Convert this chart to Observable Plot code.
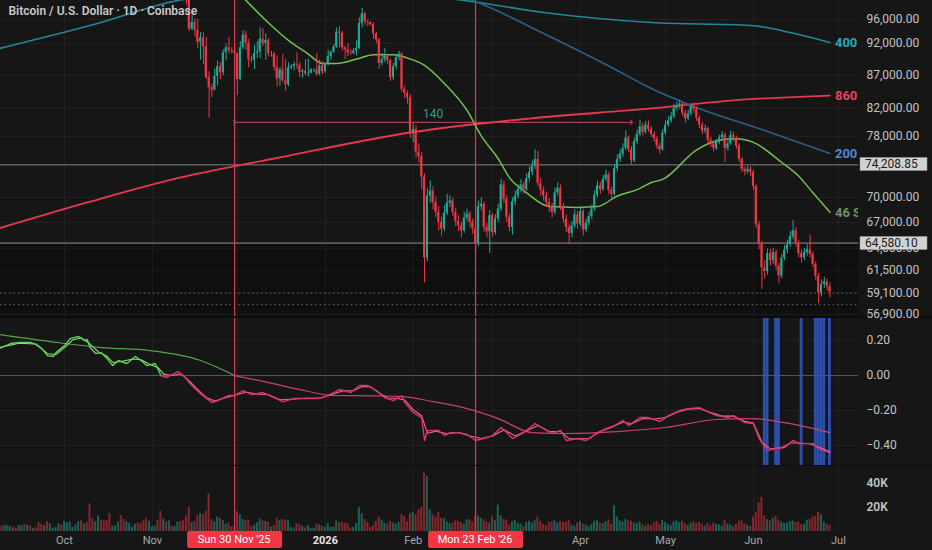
<!DOCTYPE html>
<html><head><meta charset="utf-8">
<script src="https://cdn.jsdelivr.net/npm/d3@7"></script>
<script src="https://cdn.jsdelivr.net/npm/@observablehq/plot@0.6"></script>
<style>
html,body{margin:0;padding:0;background:#161616;}
#chart{position:relative;width:932px;height:550px;overflow:hidden;background:#161616;}
#chart svg{display:block;position:relative}
.sep2{height:2px;background:#0c0c0c}
.sep1{height:1px;background:#0c0c0c}
</style></head><body><div id="chart"></div>
<script>
// ---------------- DATA ----------------
const title = "Bitcoin / U.S. Dollar · 1D · Coinbase";
const candleStart = "2025-09-08";          // first daily candle
const referenceDay = "2025-10-01";         // day offsets below count from here
const firstOpen = 111.2;                   // thousand USD
// daily closes (thousand USD), Sep 8 2025 -> Jun 28 2026
const closeK = [
112.1,111.5,113.9,115.5,116.1,115.9,115.3,115.4,116.8,116.5,
117.1,115.7,115.7,115.3,112.7,112.0,113.3,109.0,109.7,109.7,
112.1,114.4,114.0,118.6,120.6,122.3,122.4,123.5,124.8,121.4,
123.3,121.6,113.2,110.6,115.1,115.3,113.0,110.7,108.2,106.4,
107.2,108.6,110.5,108.5,107.6,110.0,111.0,111.6,114.5,114.1,
112.9,110.0,108.3,109.6,110.1,110.6,106.5,101.5,103.9,101.3,
103.3,102.3,104.7,105.9,103.0,101.6,99.7,94.4,95.5,94.2,
92.2,92.9,91.5,86.6,85.1,84.7,86.8,88.3,87.4,90.5,
91.3,90.9,90.8,90.4,86.3,91.3,93.4,92.1,89.4,89.3,
90.4,90.6,92.7,92.0,92.5,90.3,90.3,88.2,86.4,87.8,
86.1,85.5,88.1,88.3,88.6,88.5,87.4,87.6,87.2,87.3,
87.8,87.8,87.1,88.4,87.5,88.7,89.9,90.6,91.4,93.9,
93.7,91.3,91.0,90.5,90.4,90.8,91.2,95.3,97.0,95.6,
95.5,95.1,93.6,92.6,88.8,89.4,89.9,89.2,86.6,88.3,
89.7,90.3,84.8,84.2,83.6,78.6,79.0,75.9,75.3,72.6,
62.9,70.2,70.8,69.4,68.2,67.0,66.2,68.1,69.3,69.6,
68.2,67.1,66.6,66.0,67.5,68.0,67.0,66.2,64.5,68.9,
69.2,66.4,65.9,67.8,65.8,67.4,68.6,71.6,69.8,67.6,
66.4,69.5,70.2,71.0,71.6,71.0,72.4,73.2,74.0,74.9,
71.8,70.9,70.2,69.4,68.9,68.2,70.6,71.2,68.9,67.4,
66.4,65.7,66.6,67.9,66.8,68.3,66.1,66.9,67.7,68.6,
70.3,71.5,71.0,72.3,72.9,70.9,70.4,73.7,74.9,75.6,
76.4,77.8,76.2,74.7,77.3,78.3,79.4,78.6,79.6,79.0,
78.3,77.7,76.7,76.2,78.5,79.6,80.2,80.8,82.0,82.4,
82.6,81.3,80.5,81.2,82.3,81.9,80.6,79.6,78.8,79.1,
77.5,77.0,76.4,77.2,77.8,78.2,76.4,77.0,78.2,77.8,
76.7,74.9,73.6,73.3,73.6,73.2,71.4,66.7,64.5,61.8,
61.4,63.4,62.6,63.5,62.0,60.9,62.9,63.8,64.4,65.3,
66.0,64.6,63.4,62.9,63.5,63.8,63.3,62.2,60.9,59.1,
60.0,60.3,59.8,59.2];
const highK = [
112.8,113.2,114.3,115.6,116.3,116.8,116.1,116.8,117.0,117.2,
118.0,117.4,116.1,116.0,115.4,113.3,114.0,113.4,110.3,110.0,
112.3,114.5,114.8,118.7,121.0,123.8,122.9,125.2,126.2,125.1,
124.2,123.8,122.5,113.4,115.8,116.0,115.9,113.6,111.9,109.2,
107.5,109.5,111.7,114.0,109.2,111.0,112.0,111.9,115.0,116.1,
116.0,113.6,111.5,111.2,110.6,111.2,110.8,107.3,104.5,104.2,
104.0,103.4,105.0,106.6,107.0,105.3,104.0,99.9,96.8,96.1,
96.0,93.8,93.8,93.0,87.5,85.6,87.9,89.2,88.9,91.0,
91.9,93.0,91.4,92.0,90.4,92.3,94.1,94.0,92.7,89.9,
91.7,92.3,94.6,94.4,93.6,92.8,90.7,90.6,90.0,88.2,
90.3,89.4,88.9,88.6,89.0,90.5,88.9,87.9,89.4,89.5,
88.0,88.0,90.4,89.3,89.1,88.8,90.9,90.8,91.8,94.6,
94.8,94.0,91.5,91.9,91.0,91.2,92.4,96.3,97.9,97.2,
95.9,95.6,95.4,93.8,92.8,90.4,91.2,90.2,89.5,88.8,
90.2,90.7,90.5,85.3,84.6,84.0,79.8,79.5,77.0,75.8,
73.0,71.1,72.1,71.4,70.1,68.9,67.6,69.0,70.4,70.2,
69.9,68.7,67.8,67.0,68.2,68.6,68.3,67.4,66.5,69.6,
70.0,69.5,66.9,68.4,68.1,67.9,69.2,72.3,72.1,70.2,
68.0,70.0,70.8,71.6,72.3,72.0,73.0,73.9,74.7,76.2,
76.0,72.4,71.4,70.7,69.9,69.3,71.2,71.9,71.6,69.3,
67.9,66.8,67.1,68.5,68.3,68.9,68.6,67.4,68.2,69.1,
70.9,72.1,71.9,72.8,73.5,73.2,71.3,74.2,75.5,76.2,
77.0,78.8,78.1,76.6,77.8,78.9,80.3,79.9,80.1,80.2,
79.4,78.7,78.0,77.1,79.0,80.2,80.8,81.4,82.6,82.9,
83.2,82.9,81.7,81.7,82.7,82.8,82.2,80.9,80.0,79.6,
79.3,77.9,77.3,77.6,78.2,78.7,78.5,77.4,78.7,78.6,
78.1,77.0,75.2,73.9,74.0,73.9,73.5,71.6,67.1,64.8,
62.6,63.9,63.9,64.0,63.8,62.3,63.3,64.3,64.9,65.9,
67.2,66.4,64.9,63.8,64.0,64.4,65.5,63.6,62.5,61.2,
60.5,60.8,60.6,60.2];
const lowK = [
110.9,110.6,110.9,113.4,114.8,115.3,114.9,114.6,114.9,114.8,
115.6,115.3,115.3,114.9,111.9,111.0,111.6,108.6,108.6,109.1,
109.3,111.6,112.7,113.9,118.0,119.4,121.6,122.0,123.1,120.6,
121.1,119.8,104.8,109.6,109.7,113.0,110.2,110.0,107.6,103.6,
106.3,106.8,107.5,107.5,106.8,107.5,109.7,110.8,111.4,113.8,
112.6,109.2,106.3,108.3,109.4,109.6,105.3,99.6,100.8,100.3,
99.9,101.5,101.7,104.4,102.5,100.8,98.5,94.0,94.1,93.1,
91.2,89.3,88.6,86.3,80.6,83.6,84.6,85.3,86.3,86.9,
89.2,90.3,90.3,90.1,83.9,86.2,91.0,90.9,88.1,88.9,
87.8,89.6,89.6,91.5,89.3,89.8,89.8,87.6,85.2,85.3,
85.9,84.5,85.2,87.8,87.6,87.9,86.6,86.5,86.9,86.7,
87.2,87.4,86.8,86.9,87.1,87.3,88.4,89.3,90.4,91.2,
91.3,90.8,89.4,89.9,90.1,90.2,90.0,91.0,94.6,95.0,
94.8,94.9,92.7,92.0,87.9,88.4,88.9,88.6,86.0,86.1,
87.8,89.2,84.3,83.4,82.6,77.8,77.2,75.1,74.4,71.0,
60.2,62.5,69.3,68.5,67.6,66.0,65.4,65.9,67.8,68.8,
67.7,66.5,65.9,65.2,65.7,67.1,66.4,65.6,62.8,64.2,
68.4,65.8,65.2,63.4,65.3,65.5,67.0,68.3,69.3,67.0,
65.9,65.5,69.0,69.8,70.6,70.4,70.8,72.0,72.8,73.6,
71.3,70.2,69.6,68.8,68.2,67.5,67.9,70.2,68.4,66.9,
65.8,64.4,65.2,66.3,66.2,66.5,65.4,65.8,66.6,67.3,
68.3,70.0,70.4,70.8,72.0,70.4,69.8,70.2,73.3,74.5,
75.2,76.1,75.8,74.2,74.5,76.9,78.0,78.1,78.3,78.6,
77.9,77.2,76.2,75.6,76.0,78.2,79.3,79.9,80.5,81.6,
81.9,80.9,79.9,80.2,80.9,81.3,80.1,79.1,78.3,78.4,
77.0,76.5,75.9,76.1,76.9,77.5,74.5,76.0,76.8,77.3,
76.3,74.5,73.2,72.8,73.0,72.7,70.9,66.3,63.8,59.5,
60.6,61.0,62.0,62.2,61.5,60.1,60.6,62.6,63.4,64.1,
65.0,64.1,62.9,62.3,62.6,63.1,62.9,61.8,60.4,58.0,
58.7,59.6,59.3,58.6];
// daily volume (thousand BTC)
const volumeK = [
4.0,4.5,5.2,4.8,4.3,3.2,2.9,5.0,5.1,5.8,
5.2,4.6,2.5,2.8,7.5,6.0,5.1,8.2,6.4,2.7,
3.2,6.3,5.5,8.1,7.2,7.9,3.6,5.4,8.3,9.0,
6.1,7.5,23.0,10.5,8.0,13.0,9.5,8.8,9.2,15.0,
4.5,4.8,7.8,13.5,10.1,8.0,6.9,3.5,6.0,7.2,
7.0,9.0,11.0,8.5,4.0,4.5,9.5,17.0,10.5,8.0,
9.0,4.5,4.2,7.8,8.2,9.5,13.0,20.0,7.5,8.5,
13.5,15.0,14.0,17.0,31.5,10.0,8.0,12.0,11.0,9.0,
6.0,7.0,4.0,4.5,16.5,14.0,10.0,9.0,9.5,4.0,
5.0,7.5,10.5,9.0,8.5,8.0,3.8,5.0,11.0,9.0,
10.0,9.5,9.0,3.5,3.0,6.5,6.0,4.5,3.0,5.0,
2.5,2.8,6.0,5.5,4.5,3.5,6.5,3.5,3.5,9.0,
7.5,8.0,7.0,6.5,3.0,3.5,6.5,20.0,14.5,10.0,
7.5,3.5,5.0,8.5,12.0,9.5,7.0,6.0,8.5,7.0,
6.0,7.5,14.0,12.5,8.0,15.0,16.0,14.0,18.0,20.0,
48.5,46.0,18.0,14.0,12.0,16.0,11.0,10.5,8.0,6.5,
7.0,9.0,8.5,7.5,6.0,9.5,10.0,8.0,12.5,13.0,
11.0,9.5,8.0,7.0,12.0,9.0,22.0,13.0,10.0,9.5,
5.5,8.0,9.5,7.0,6.5,4.5,7.5,8.5,7.0,9.0,
12.0,8.5,6.0,5.0,7.5,8.0,9.0,7.0,8.5,7.5,
8.0,9.5,5.5,4.5,7.0,8.0,6.0,5.5,4.0,6.0,
8.5,9.0,7.0,6.5,8.0,9.5,6.0,21.5,12.0,9.0,
8.0,10.0,9.0,8.5,7.0,6.5,8.0,5.5,4.5,6.0,
5.0,7.0,8.5,6.0,9.0,7.5,6.0,5.0,8.0,9.0,
7.5,8.5,6.5,5.0,7.0,8.0,6.5,7.5,6.0,4.5,
6.5,5.0,7.0,6.0,5.5,4.5,9.0,6.0,5.5,4.0,
6.0,8.5,9.0,6.5,5.0,4.5,12.0,16.0,24.0,28.5,
13.0,10.0,9.0,11.0,12.5,9.5,8.0,6.5,7.0,8.0,
9.0,7.5,8.0,5.5,6.0,9.5,10.0,12.0,12.5,16.0,
14.0,7.5,6.0,5.0];

// moving averages (knots: day offset from referenceDay, thousand USD)
const sma46Day = [58,64,72,79,86,91,96,103,109,116,122,127,134,142,147,153,157,163,171,181,188,195,202,207,211,223,231,237,243,253,259,264,270];
const sma46Val = [102.4,99.3,95.4,92.5,90.3,88.8,88.8,89.5,90.2,90.2,89.5,88.5,85.7,81.7,78.1,75.0,72.5,70.6,68.9,68.8,68.9,70.2,71.0,71.9,72.3,76.2,77.5,77.7,77.2,74.5,72.7,70.6,68.2];
const sma860Day = [-23,9,41,76,122,164,207,235,270];
const sma860Val = [66.3,69.5,72.55,75.17,78.57,80.54,81.99,83.15,83.89];
const sma400Day = [-23,9,40,70,110,141,169,207,242,256,270];
const sma400Val = [91.19,94.98,99.29,100.9,100.8,99.29,97.2,95.49,94.99,93.81,92.16];
const sma200Day = [90,120,144,169,193,207,221,247,270];
const sma200Val = [104.0,102.5,99.29,93.65,88.17,84.94,82.43,78.85,75.70];

// oscillator pane (day offsets from referenceDay)
const fastDay = [-23,-19,-16,-12,-10,-8,-6,-4,-3,0,2,5,7,8,9,11,13,15,17,19,22,25,27,29,32,34,36,38,40,42,44,46,48,52,54,58,60,63,66,70,74,77,81,84,88,91,95,97,101,104,107,110,113,116,119,120,123,126,127,128,132,134,136,139,142,145,149,151,154,156,158,162,166,169,172,175,177,181,184,188,191,194,197,199,203,206,210,213,217,220,224,226,230,234,236,240,243,245,248,251,254,257,259,262,264,266,270];
const fastVal = [0.154,0.183,0.189,0.189,0.177,0.154,0.114,0.109,0.131,0.171,0.211,0.223,0.200,0.206,0.160,0.126,0.131,0.097,0.057,0.086,0.069,0.109,0.086,0.057,0.069,0.000,-0.011,0.006,0.023,0.000,-0.040,-0.074,-0.103,-0.154,-0.143,-0.114,-0.114,-0.086,-0.109,-0.097,-0.126,-0.149,-0.131,-0.131,-0.131,-0.126,-0.097,-0.080,-0.097,-0.057,-0.057,-0.086,-0.126,-0.143,-0.114,-0.154,-0.211,-0.240,-0.371,-0.314,-0.314,-0.343,-0.326,-0.326,-0.337,-0.371,-0.354,-0.343,-0.297,-0.326,-0.360,-0.326,-0.274,-0.303,-0.331,-0.314,-0.371,-0.360,-0.371,-0.326,-0.303,-0.286,-0.257,-0.286,-0.240,-0.240,-0.263,-0.229,-0.200,-0.189,-0.183,-0.200,-0.229,-0.240,-0.229,-0.269,-0.274,-0.360,-0.429,-0.417,-0.411,-0.371,-0.389,-0.389,-0.389,-0.417,-0.440];
const signalDay = [-23,-16,-10,-6,-3,0,3,6,9,12,15,17,20,24,27,30,33,35,38,41,44,47,50,53,57,61,64,68,72,76,80,85,90,94,98,102,105,108,111,114,117,120,123,126,128,131,135,139,143,147,151,155,159,163,167,171,175,178,182,185,189,193,197,200,204,208,212,216,220,224,228,232,236,240,243,246,249,253,256,259,263,267,270];
const signalVal = [0.160,0.185,0.180,0.125,0.120,0.160,0.205,0.215,0.180,0.135,0.110,0.075,0.080,0.095,0.090,0.065,0.045,0.008,0.000,0.010,-0.030,-0.080,-0.125,-0.145,-0.125,-0.108,-0.095,-0.105,-0.110,-0.138,-0.135,-0.130,-0.128,-0.110,-0.088,-0.085,-0.062,-0.065,-0.100,-0.130,-0.130,-0.140,-0.195,-0.230,-0.330,-0.318,-0.333,-0.325,-0.345,-0.360,-0.345,-0.310,-0.345,-0.315,-0.285,-0.320,-0.320,-0.360,-0.362,-0.360,-0.320,-0.295,-0.265,-0.275,-0.245,-0.248,-0.240,-0.210,-0.192,-0.188,-0.212,-0.232,-0.232,-0.262,-0.272,-0.380,-0.420,-0.412,-0.385,-0.385,-0.390,-0.415,-0.435];
const slowDay = [-23,-5,13,30,48,60,72,83,95,107,119,130,142,153,165,177,195,212,230,243,254,270];
const slowVal = [0.234,0.194,0.160,0.143,0.086,0.000,-0.040,-0.080,-0.114,-0.116,-0.120,-0.149,-0.189,-0.246,-0.326,-0.331,-0.320,-0.297,-0.251,-0.246,-0.269,-0.326];
const blueDays = [247,248,251,252,260,265,266,267,268,270];

// annotations
const markDates = ["2025-11-30","2026-02-23"];
const measure = {startDay: 60, days: 140, level: 80000};
const keyLevels = [74208.85, 64580.10];
const dottedLevels = [59100, 57900];
const priceTicks = [56900,59100,61500,64000,67000,70000,78000,82000,87000,92000,96000];
const oscTicks = [0.2,0,-0.2,-0.4];
const volTicks = [20,40];
const monthTicks = ["2025-10-01","2025-11-01","2025-12-01","2026-01-01","2026-02-01","2026-03-01","2026-04-01","2026-05-01","2026-06-01","2026-07-01"];

// ---------------- BUILD ----------------
const DAY = 864e5;
const ref = Date.parse(referenceDay + "T00:00:00Z");
const day = n => new Date(ref + n * DAY);
const c0 = Date.parse(candleStart + "T00:00:00Z");
const candles = closeK.map((c, i) => ({
  date: new Date(c0 + i * DAY),
  open: (i ? closeK[i - 1] : firstOpen) * 1000,
  close: c * 1000, high: highK[i] * 1000, low: lowK[i] * 1000, volume: volumeK[i]
}));
const bulls = candles.filter(d => d.close >= d.open);
const bears = candles.filter(d => d.close < d.open);
const months = monthTicks.map(s => new Date(s + "T00:00:00Z"));
const marks = markDates.map(s => new Date(s + "T00:00:00Z"));
const knots = (days, vals, f = 1) => days.map((n, i) => ({n, date: day(n), v: vals[i] * f}));
// month labels hidden behind the red date boxes in the reference
const coveredMonth = d => marks.some(m => Math.abs(m - d) < 30 * DAY && Math.abs(m - d) > 0 && Math.abs(m - d) < 12 * DAY);

const W = 932, MR = 74, H1 = 316, H2 = 147, H3 = 84;
const FONT = "Roboto, 'Noto Sans', 'DejaVu Sans', sans-serif";
const xDomain = [day(-22.58), day(280.07)];
const lk = Math.log(96000 / 56900) / (314 - 19);
const priceTop = 96000 * Math.exp(19 * lk);
const priceBottom = 56900 * Math.exp(-(H1 - 314) * lk);
const BULL = "#22ab94", BEAR = "#f23645", VLINE = "#cf3a55";
const GRID = {stroke: "#ffffff", strokeOpacity: 0.055};
const baseStyle = {background: "transparent", fontFamily: FONT, fontSize: "12px", color: "#c2c2c2"};
const halfBar = 0.36 * DAY;

function levelBoxes(index, scales, values, dim) {
  const g = d3.create("svg:g");
  for (const v of keyLevels) {
    const y = Math.round(scales.y(v));
    const x0 = dim.width - dim.marginRight + 2;
    g.append("rect").attr("x", x0).attr("y", y - 6.5).attr("width", 67).attr("height", 13)
      .attr("fill", "#d2d2d2").attr("stroke", "#9a9a9a").attr("stroke-width", 0.5);
    g.append("text").attr("x", x0 + 5).attr("y", y).attr("dy", "0.36em").attr("text-anchor", "start")
      .attr("fill", "#1b1b1b").attr("font-size", 12).attr("font-family", FONT).text(d3.format(",.2f")(v));
  }
  return g.node();
}
function dateBoxes(index, scales, values, dim) {
  const g = d3.create("svg:g");
  const fmt = d3.utcFormat("%a %d %b '%y");
  const y0 = dim.height - dim.marginBottom;
  for (const d of marks) {
    const x = scales.x(d);
    g.append("rect").attr("x", x - 47).attr("y", y0).attr("width", 95).attr("height", 17)
      .attr("fill", "#f23645").attr("rx", 2);
    g.append("text").attr("x", x).attr("y", y0 + 8.5).attr("dy", "0.35em").attr("text-anchor", "middle")
      .attr("fill", "#ffffff").attr("font-size", 11).attr("font-family", FONT).text(fmt(d));
  }
  return g.node();
}

const maDefs = [
  {days: sma860Day, vals: sma860Val, stroke: "#e8384f", width: 1.8, label: "860", color: "#e4405a"},
  {days: sma400Day, vals: sma400Val, stroke: "#23889b", width: 1.6, label: "400", color: "#26a9bc"},
  {days: sma200Day, vals: sma200Val, stroke: "#2b5f8c", width: 1.6, label: "200", color: "#4f86d6"},
  {days: sma46Day, vals: sma46Val, stroke: "#72c04d", width: 1.5, label: "46 SMA", color: "#71906c"}
];

const priceMarks = [
  Plot.rect([0], {x1: () => xDomain[0], x2: () => xDomain[1], y1: () => priceBottom, y2: () => keyLevels[1], fill: "#000", fillOpacity: 0.3}),
  Plot.gridY(priceTicks, GRID),
  Plot.gridX(months, GRID),
  Plot.ruleY(keyLevels, {stroke: "#5c5c5c", strokeWidth: 1.6}),
  Plot.ruleY(dottedLevels, {stroke: "#6a6a6a", strokeWidth: 1, strokeDasharray: "1.5,3"}),
  Plot.ruleX(marks, {stroke: VLINE, strokeWidth: 1.3}),
];
for (const m of maDefs) {
  const pts = knots(m.days, m.vals, 1000);
  priceMarks.push(Plot.line(pts, {x: "date", y: "v", curve: "monotone-x", stroke: m.stroke, strokeWidth: m.width, clip: true}));
}
priceMarks.push(
  Plot.ruleX(bulls, {x: "date", y1: "low", y2: "high", stroke: BULL, strokeWidth: 1, clip: true}),
  Plot.ruleX(bears, {x: "date", y1: "low", y2: "high", stroke: BEAR, strokeWidth: 1, clip: true}),
  Plot.rect(bulls, {x1: d => new Date(+d.date - halfBar), x2: d => new Date(+d.date + halfBar), y1: "open", y2: "close", fill: BULL, clip: true}),
  Plot.rect(bears, {x1: d => new Date(+d.date - halfBar), x2: d => new Date(+d.date + halfBar), y1: "open", y2: "close", fill: BEAR, clip: true}),
  Plot.link([measure], {x1: d => day(d.startDay), x2: d => day(d.startDay + d.days), y1: d => d.level, y2: d => d.level,
    stroke: "#c8475c", strokeWidth: 1, markerStart: "arrow", markerEnd: "arrow"}),
  Plot.text([measure], {x: d => day(d.startDay + d.days / 2), y: d => d.level, text: d => String(d.days), dy: -8,
    fill: "#2e9e8f", fontSize: 12}),
  Plot.text([title], {frameAnchor: "top-left", dx: 8, dy: 6, lineAnchor: "top", textAnchor: "start",
    fill: "#c9c9c9", fontWeight: 600, fontSize: 12})
);
for (const m of maDefs) {
  const last = m.days.length - 1;
  priceMarks.push(Plot.text([m], {x: () => day(m.days[last]), y: () => m.vals[last] * 1000, text: () => m.label,
    dx: 5, textAnchor: "start", fill: m.color, fontSize: 13, fontWeight: 700, clip: true}));
}
priceMarks.push(
  Plot.axisY(priceTicks, {anchor: "right", tickSize: 0, tickPadding: 8, tickFormat: d3.format(",.2f"), label: null, fill: "#c4c4c4", fontSize: 12}),
  levelBoxes
);

const priceChart = Plot.plot({
  width: W, height: H1, marginTop: 0, marginBottom: 0, marginLeft: 0, marginRight: MR,
  style: {...baseStyle, overflow: "visible"},
  x: {type: "utc", domain: xDomain, axis: null},
  y: {type: "log", domain: [priceBottom, priceTop], axis: null},
  marks: priceMarks
});
priceChart.style.zIndex = 3;

// oscillator
const oscDomain = [-0.514, 0.326];
const fast = knots(fastDay, fastVal), sig = knots(signalDay, signalVal), slow = knots(slowDay, slowVal);
const GREEN_F = "#5fd35a", GREEN_S = "#4fa84a", PINK_F = "#e0336b", PINK_S = "#c8416a";
const oscChart = Plot.plot({
  width: W, height: H2, marginTop: 0, marginBottom: 0, marginLeft: 0, marginRight: MR,
  style: baseStyle,
  x: {type: "utc", domain: xDomain, axis: null},
  y: {domain: oscDomain, axis: null},
  marks: [
    Plot.gridX(months, GRID),
    Plot.gridY([0.2, -0.2, -0.4], GRID),
    Plot.rect(blueDays, {x1: d => day(d - 0.5), x2: d => day(d + 0.5), y1: oscDomain[0], y2: oscDomain[1], fill: "#2c4fae"}),
    Plot.ruleY([0], {stroke: "#5a5a5a", strokeWidth: 1}),
    Plot.line(slow.filter(d => d.n <= 60), {x: "date", y: "v", curve: "monotone-x", stroke: GREEN_S, strokeWidth: 1.2}),
    Plot.line(slow.filter(d => d.n >= 60), {x: "date", y: "v", curve: "monotone-x", stroke: PINK_S, strokeWidth: 1.2}),
    Plot.line(sig.filter(d => d.n <= 35), {x: "date", y: "v", stroke: "#8fe07f", strokeWidth: 1.1}),
    Plot.line(sig.filter(d => d.n >= 35), {x: "date", y: "v", stroke: "#f06b93", strokeWidth: 1.1}),
    Plot.line(fast.filter(d => d.n <= 34), {x: "date", y: "v", stroke: GREEN_F, strokeWidth: 1.4}),
    Plot.line(fast.filter(d => d.n >= 34), {x: "date", y: "v", stroke: PINK_F, strokeWidth: 1.4}),
    Plot.ruleX(marks, {stroke: VLINE, strokeWidth: 1.3}),
    Plot.axisY(oscTicks, {anchor: "right", tickSize: 0, tickPadding: 8, label: null, fill: "#c4c4c4", fontSize: 12,
      tickFormat: v => v.toFixed(2).replace("-", "\u2212")})
  ]
});

// volume + time axis
const labelMonths = months.filter(d => !coveredMonth(d));
const volChart = Plot.plot({
  width: W, height: H3, marginTop: 0, marginBottom: 19, marginLeft: 0, marginRight: MR,
  style: baseStyle,
  x: {type: "utc", domain: xDomain, axis: null},
  y: {domain: [0, 54.2], axis: null},
  marks: [
    Plot.gridX(months, GRID),
    Plot.rect(bears, {x1: d => new Date(+d.date - halfBar), x2: d => new Date(+d.date + halfBar), y1: 0, y2: "volume", fill: BEAR, fillOpacity: 0.5}),
    Plot.rect(bulls, {x1: d => new Date(+d.date - halfBar), x2: d => new Date(+d.date + halfBar), y1: 0, y2: "volume", fill: BULL, fillOpacity: 0.5}),
    Plot.ruleX(marks, {stroke: VLINE, strokeWidth: 1.3}),
    Plot.axisY(volTicks, {anchor: "right", tickSize: 0, tickPadding: 8, label: null, fill: "#c4c4c4", fontSize: 12, fontWeight: 600,
      tickFormat: v => v + "K"}),
    Plot.axisX(labelMonths.filter(d => d.getUTCMonth() !== 0), {anchor: "bottom", tickSize: 0, tickPadding: 5, label: null,
      tickFormat: d3.utcFormat("%b"), fill: "#a9a9a9", fontSize: 11}),
    Plot.axisX(labelMonths.filter(d => d.getUTCMonth() === 0), {anchor: "bottom", tickSize: 0, tickPadding: 5, label: null,
      tickFormat: d3.utcFormat("%Y"), fill: "#e6e6e6", fontSize: 11, fontWeight: 700}),
    dateBoxes
  ]
});

const root = document.getElementById("chart");
root.append(priceChart);
const s1 = document.createElement("div"); s1.className = "sep2"; root.append(s1);
root.append(oscChart);
const s2 = document.createElement("div"); s2.className = "sep1"; root.append(s2);
root.append(volChart);
</script></body></html>
